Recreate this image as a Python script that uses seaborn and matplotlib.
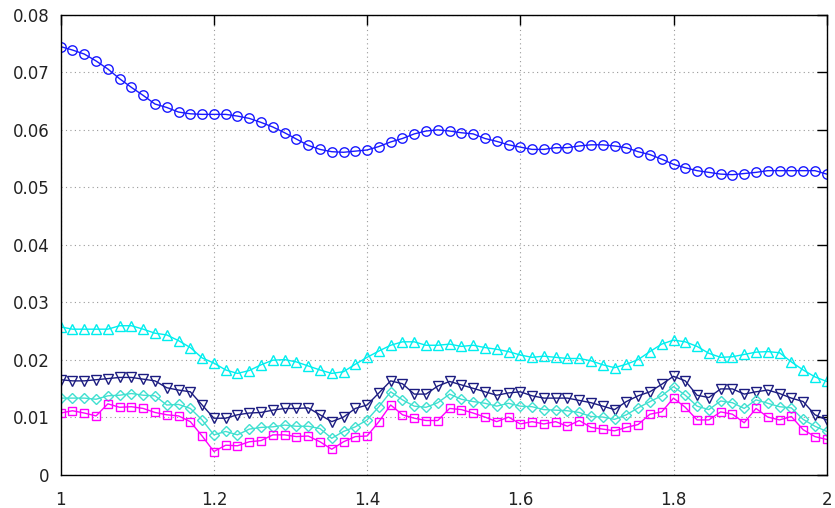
import numpy as np
import pandas as pd
import matplotlib
matplotlib.use("Agg")
import matplotlib.pyplot as plt
import seaborn as sns
from matplotlib.ticker import FuncFormatter

# x positions: 66 evenly spaced samples from 1 to 2
x = np.linspace(1.0, 2.0, 66)

blue_circles = [
    0.0745, 0.0739, 0.0732, 0.0720, 0.0706, 0.0689, 0.0674, 0.0660, 0.0645, 0.0639,
    0.0631, 0.0628, 0.0627, 0.0627, 0.0627, 0.0624, 0.0620, 0.0613, 0.0605, 0.0595,
    0.0584, 0.0573, 0.0566, 0.0562, 0.0561, 0.0563, 0.0565, 0.0571, 0.0579, 0.0585,
    0.0593, 0.0598, 0.0600, 0.0598, 0.0595, 0.0593, 0.0585, 0.0580, 0.0574, 0.0570,
    0.0566, 0.0566, 0.0569, 0.0569, 0.0572, 0.0574, 0.0574, 0.0572, 0.0569, 0.0562,
    0.0557, 0.0549, 0.0540, 0.0534, 0.0529, 0.0526, 0.0523, 0.0522, 0.0524, 0.0526,
    0.0529, 0.0529, 0.0529, 0.0529, 0.0529, 0.0523,
]
cyan_triangles = [
    0.0257, 0.0253, 0.0253, 0.0253, 0.0253, 0.0259, 0.0259, 0.0253, 0.0246, 0.0243,
    0.0233, 0.0221, 0.0203, 0.0194, 0.0182, 0.0176, 0.0181, 0.0191, 0.0199, 0.0200,
    0.0196, 0.0189, 0.0182, 0.0176, 0.0179, 0.0192, 0.0204, 0.0215, 0.0225, 0.0231,
    0.0231, 0.0225, 0.0225, 0.0227, 0.0223, 0.0225, 0.0221, 0.0218, 0.0214, 0.0208,
    0.0204, 0.0206, 0.0204, 0.0202, 0.0202, 0.0198, 0.0191, 0.0186, 0.0192, 0.0200,
    0.0214, 0.0227, 0.0234, 0.0231, 0.0223, 0.0211, 0.0204, 0.0205, 0.0209, 0.0213,
    0.0214, 0.0212, 0.0196, 0.0182, 0.0170, 0.0162,
]
navy_triangles = [
    0.0165, 0.0163, 0.0163, 0.0165, 0.0167, 0.0169, 0.0169, 0.0166, 0.0163, 0.0151,
    0.0147, 0.0144, 0.0121, 0.0098, 0.0098, 0.0104, 0.0107, 0.0108, 0.0112, 0.0115,
    0.0115, 0.0116, 0.0104, 0.0092, 0.0100, 0.0115, 0.0121, 0.0142, 0.0163, 0.0158,
    0.0140, 0.0140, 0.0154, 0.0162, 0.0156, 0.0150, 0.0144, 0.0138, 0.0142, 0.0144,
    0.0137, 0.0133, 0.0133, 0.0133, 0.0129, 0.0125, 0.0119, 0.0113, 0.0127, 0.0137,
    0.0144, 0.0157, 0.0171, 0.0163, 0.0138, 0.0134, 0.0149, 0.0149, 0.0140, 0.0144,
    0.0147, 0.0141, 0.0133, 0.0127, 0.0104, 0.0095,
]
turquoise_diamonds = [
    0.0133, 0.0133, 0.0133, 0.0131, 0.0137, 0.0138, 0.0141, 0.0138, 0.0137, 0.0121,
    0.0122, 0.0115, 0.0095, 0.0069, 0.0075, 0.0069, 0.0079, 0.0082, 0.0083, 0.0086,
    0.0084, 0.0084, 0.0080, 0.0063, 0.0075, 0.0083, 0.0095, 0.0118, 0.0144, 0.0130,
    0.0119, 0.0117, 0.0125, 0.0140, 0.0131, 0.0127, 0.0124, 0.0119, 0.0124, 0.0119,
    0.0118, 0.0113, 0.0112, 0.0111, 0.0108, 0.0101, 0.0100, 0.0096, 0.0104, 0.0116,
    0.0127, 0.0137, 0.0153, 0.0138, 0.0119, 0.0113, 0.0128, 0.0125, 0.0115, 0.0130,
    0.0124, 0.0118, 0.0116, 0.0096, 0.0084, 0.0075,
]
magenta_squares = [
    0.0107, 0.0111, 0.0107, 0.0102, 0.0123, 0.0117, 0.0118, 0.0115, 0.0108, 0.0104,
    0.0102, 0.0092, 0.0067, 0.0040, 0.0051, 0.0050, 0.0057, 0.0059, 0.0069, 0.0069,
    0.0066, 0.0067, 0.0057, 0.0044, 0.0057, 0.0066, 0.0067, 0.0092, 0.0121, 0.0104,
    0.0098, 0.0094, 0.0094, 0.0115, 0.0113, 0.0107, 0.0100, 0.0092, 0.0100, 0.0088,
    0.0092, 0.0088, 0.0092, 0.0084, 0.0094, 0.0082, 0.0079, 0.0076, 0.0082, 0.0087,
    0.0105, 0.0109, 0.0133, 0.0117, 0.0095, 0.0095, 0.0109, 0.0105, 0.0090, 0.0115,
    0.0100, 0.0095, 0.0101, 0.0078, 0.0066, 0.0061,
]

x_ticks = [1.0, 1.2, 1.4, 1.6, 1.8, 2.0]
y_ticks = [0, 0.01, 0.02, 0.03, 0.04, 0.05, 0.06, 0.07, 0.08]

series = [
    ("blue", blue_circles, "#1a1aff", "o", 6.8),
    ("cyan", cyan_triangles, "#00eeee", "^", 6.8),
    ("navy", navy_triangles, "#1c1c80", "v", 6.8),
    ("turquoise", turquoise_diamonds, "#40e0d0", "D", 5.2),
    ("magenta", magenta_squares, "#ff00ff", "s", 6.2),
]

sns.set_theme(style="white")
plt.rcParams["font.family"] = ["DejaVu Sans"]

fig = plt.figure(figsize=(8.35, 5.08), dpi=100)
ax = fig.add_axes([60.7 / 835, 1 - 474.5 / 508, (826.7 - 60.7) / 835, (474.5 - 15) / 508])

for name, vals, color, marker, ms in series:
    df = pd.DataFrame({"x": x, "y": vals})
    sns.lineplot(data=df, x="x", y="y", ax=ax, color=color, marker=marker,
                 markersize=ms, markerfacecolor="none", markeredgecolor=color,
                 markeredgewidth=1.0, linewidth=1.0, legend=False)

ax.set_xlim(1.0, 2.0)
ax.set_ylim(0, 0.08)
ax.set_xticks(x_ticks)
ax.set_yticks(y_ticks)
ax.xaxis.set_major_formatter(FuncFormatter(lambda v, p: f"{v:g}"))
ax.yaxis.set_major_formatter(FuncFormatter(lambda v, p: f"{v:g}"))
ax.set_xlabel("")
ax.set_ylabel("")

ax.grid(True, which="major", color="#999999", linestyle=(0, (1, 3)), linewidth=0.8)
for s in ax.spines.values():
    s.set_visible(True)
    s.set_color("black")
    s.set_linewidth(1.0)

ax.tick_params(axis="both", which="major", direction="in", length=7, width=1.0,
               color="black", top=True, right=True, labelsize=12, labelcolor="#222222")
ax.tick_params(axis="x", pad=12)
ax.tick_params(axis="y", pad=8)

fig.savefig("out.png", dpi=100)
